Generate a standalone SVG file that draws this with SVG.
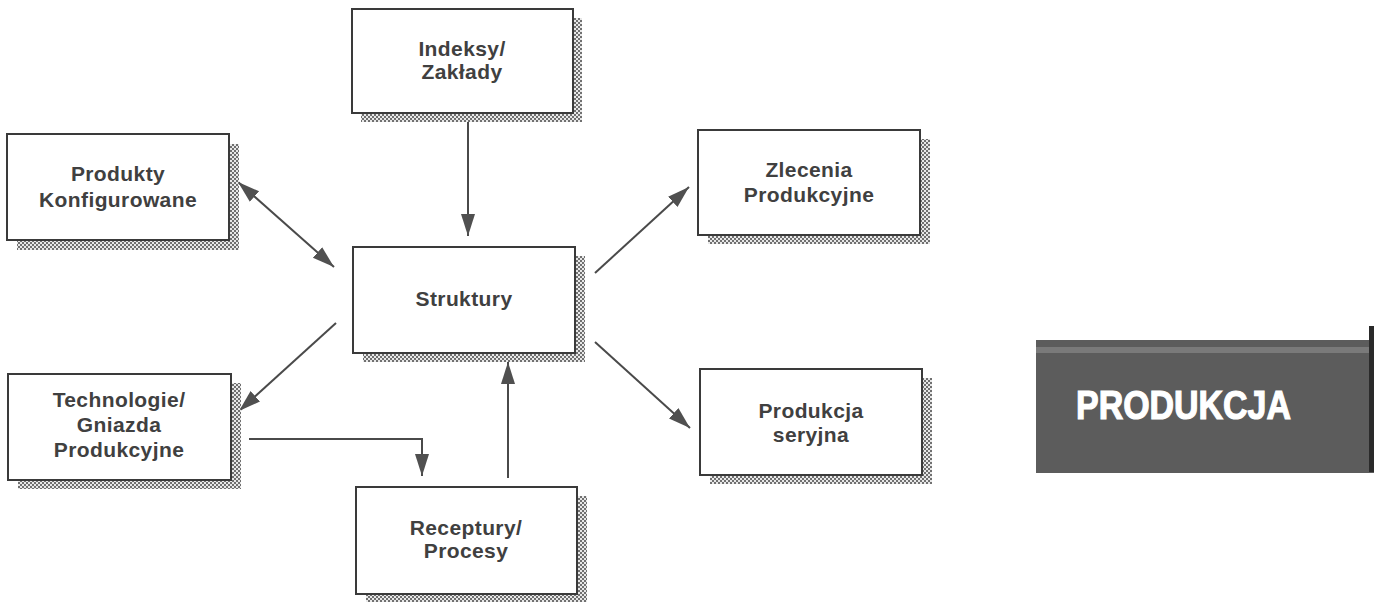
<svg xmlns="http://www.w3.org/2000/svg" width="1374" height="602" viewBox="0 0 1374 602">
<style>
.box{fill:#fff;stroke:#3a3a3a;stroke-width:2}
.sh{fill:url(#dots)}
.t{font-family:"Liberation Sans",Arial,sans-serif;font-size:21px;font-weight:bold;fill:#404040;text-anchor:middle;letter-spacing:0.4px}
.c{fill:none;stroke:#4a4a4a;stroke-width:2}
</style>
<defs>
<pattern id="dots" width="4" height="4" patternUnits="userSpaceOnUse">
<rect width="4" height="4" fill="#e8e8e8"/>
<rect x="0" y="0" width="2" height="2" fill="#707070"/>
<rect x="2" y="2" width="2" height="2" fill="#707070"/>
</pattern>
<marker id="ah" markerUnits="userSpaceOnUse" markerWidth="24" markerHeight="16" refX="22" refY="7" orient="auto-start-reverse">
<path d="M0,0 L22,7 L0,14 z" fill="#505050"/>
</marker>
</defs>
<g id="connectors">
<path class="c" d="M468,120 L468,236" marker-end="url(#ah)"/>
<path class="c" d="M238,182 L334,267" marker-start="url(#ah)" marker-end="url(#ah)"/>
<path class="c" d="M336,323 L239,411" marker-end="url(#ah)"/>
<path class="c" d="M249,439 L422,439 L422,476" marker-end="url(#ah)"/>
<path class="c" d="M508,478 L508,362" marker-end="url(#ah)"/>
<path class="c" d="M595,273 L689,187" marker-end="url(#ah)"/>
<path class="c" d="M595,342 L690,428" marker-end="url(#ah)"/>
</g>
<g id="indeksy">
<rect class="sh" x="361" y="18" width="221" height="104"/>
<rect class="box" x="352" y="9" width="221" height="104"/>
<text class="t" x="462" y="56">Indeksy/</text>
<text class="t" x="462" y="79">Zakłady</text>
</g>
<g id="produkty">
<rect class="sh" x="17" y="144" width="222" height="106"/>
<rect class="box" x="7" y="134" width="222" height="106"/>
<text class="t" x="118" y="181">Produkty</text>
<text class="t" x="118" y="207">Konfigurowane</text>
</g>
<g id="struktury">
<rect class="sh" x="363" y="256" width="222" height="106"/>
<rect class="box" x="353" y="247" width="222" height="106"/>
<text class="t" x="464" y="306">Struktury</text>
</g>
<g id="technologie">
<rect class="sh" x="18" y="383" width="223" height="106"/>
<rect class="box" x="8" y="374" width="223" height="106"/>
<text class="t" x="119" y="407">Technologie/</text>
<text class="t" x="119" y="432">Gniazda</text>
<text class="t" x="119" y="457">Produkcyjne</text>
</g>
<g id="receptury">
<rect class="sh" x="366" y="496" width="221" height="107"/>
<rect class="box" x="356" y="487" width="221" height="107"/>
<text class="t" x="466" y="535">Receptury/</text>
<text class="t" x="466" y="558">Procesy</text>
</g>
<g id="zlecenia">
<rect class="sh" x="708" y="139" width="222" height="105"/>
<rect class="box" x="698" y="130" width="222" height="105"/>
<text class="t" x="809" y="177">Zlecenia</text>
<text class="t" x="809" y="202">Produkcyjne</text>
</g>
<g id="produkcja-seryjna">
<rect class="sh" x="710" y="378" width="222" height="106"/>
<rect class="box" x="700" y="369" width="222" height="106"/>
<text class="t" x="811" y="418">Produkcja</text>
<text class="t" x="811" y="442">seryjna</text>
</g>
<g id="banner">
<rect x="1036" y="340" width="338" height="133" fill="#5c5c5c"/>
<rect x="1036" y="347" width="338" height="6" fill="#7a7a7a"/>
<rect x="1369" y="326" width="5" height="146" fill="#2a2a2a"/>
<text x="1076" y="419" textLength="215" lengthAdjust="spacingAndGlyphs" style="font-family:'Liberation Sans',Arial,sans-serif;font-size:40px;font-weight:bold;fill:#fff;stroke:#fff;stroke-width:1.2">PRODUKCJA</text>
</g>
</svg>
